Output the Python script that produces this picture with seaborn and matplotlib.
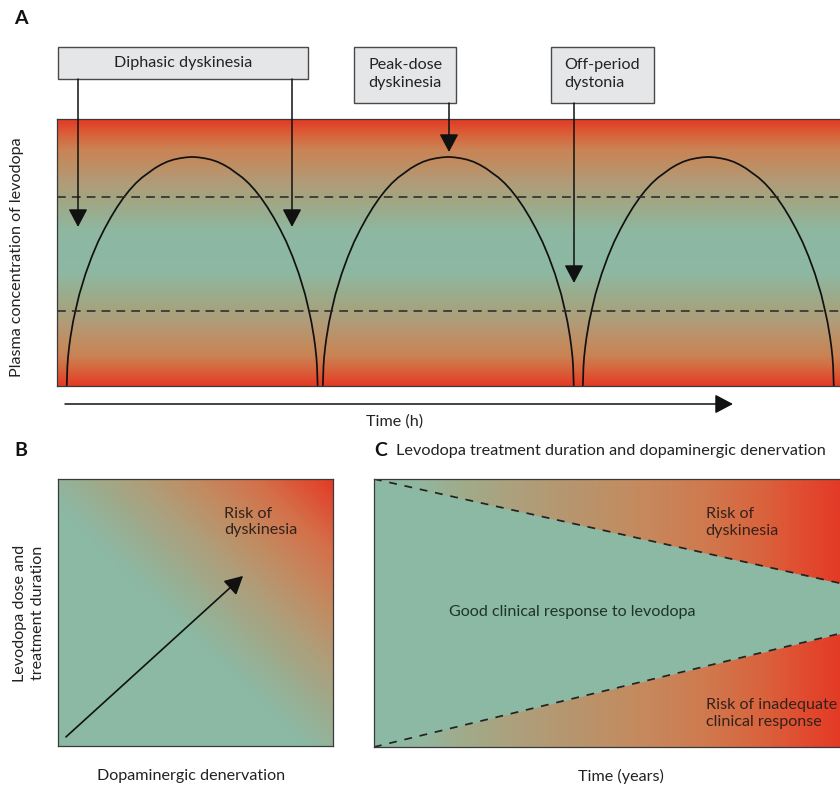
import numpy as np
import matplotlib
matplotlib.use("Agg")
import matplotlib.pyplot as plt
import seaborn as sns
import pandas as pd
from matplotlib.colors import LinearSegmentedColormap
from matplotlib.patches import Rectangle

# ---------------- data ----------------
# Panel A: plasma levodopa concentration after three doses
dose_peak_times_h = [2.08, 6.02, 10.02]
arch_half_width_h = 1.93
peak_concentration = 0.858
dyskinesia_threshold = 0.708
off_threshold = 0.281
# one half of the arch (offset from peak as fraction of half width -> fraction of peak)
arch_half_offset = [0.0, 0.05, 0.1, 0.15, 0.2, 0.25, 0.3, 0.35, 0.4, 0.45, 0.5,
                    0.55, 0.6, 0.65, 0.7, 0.75, 0.8, 0.85, 0.9, 0.93, 0.95, 0.97,
                    0.98, 0.99, 0.995, 1.0]
arch_half_level = [1.0, 0.998, 0.994, 0.988, 0.979, 0.966, 0.95, 0.93, 0.91, 0.885,
                   0.855, 0.82, 0.78, 0.735, 0.685, 0.63, 0.565, 0.49, 0.40, 0.33,
                   0.28, 0.215, 0.175, 0.125, 0.085, 0.0]

# Panel B: arrow of increasing dose / denervation
b_arrow_start = (0.029, 0.034)
b_arrow_end = (0.673, 0.637)

# Panel C: boundaries of the "good response" window over time
c_time = [0.0, 1.01]
c_upper = [1.0, 0.607]
c_lower = [0.0, 0.428]

# colours
GREEN = "#8cb9a4"
RED = "#e43a26"
TXT = "#222222"
DARK_TXT = "#33221a"

# ---------------- figure ----------------
sns.set_theme(style="white")
plt.rcParams["font.family"] = ["Lato", "DejaVu Sans"]

W, H = 840, 786
fig = plt.figure(figsize=(W / 100, H / 100), dpi=100)
FS = 11.6


def px_axes(x0, y0, x1, y1, **kw):
    return fig.add_axes([x0 / W, 1 - y1 / H, (x1 - x0) / W, (y1 - y0) / H], **kw)


def style_spines(ax, color="#3a3a3a", lw=0.9):
    for s in ax.spines.values():
        s.set_visible(True)
        s.set_color(color)
        s.set_linewidth(lw)
    ax.set_xticks([])
    ax.set_yticks([])
    ax.set_xlabel("")
    ax.set_ylabel("")


# ---- Panel A ----
cmapA = LinearSegmentedColormap.from_list(
    "a", [(0.0, "#8cb9a4"), (0.17, "#8fb7a1"), (0.28, "#97af91"), (0.42, "#a5a480"),
          (0.54, "#b39a77"), (0.66, "#bf8e63"), (0.77, "#c98455"), (0.88, "#d8643b"),
          (1.0, RED)])
axA = px_axes(57, 119, 845, 386)
xmaxA = (845 - 57) / 65
yy = np.linspace(0, 1, 400)
dist = np.abs(yy - 0.5) / 0.5
axA.imshow(dist[:, None], cmap=cmapA, vmin=0, vmax=1, aspect="auto",
           origin="lower", extent=[0, xmaxA, 0, 1], interpolation="bilinear")
arch_offset = [-o for o in arch_half_offset[::-1]] + arch_half_offset[1:]
arch_level = arch_half_level[::-1] + arch_half_level[1:]
rows = []
for i, tc in enumerate(dose_peak_times_h):
    for o, l in zip(arch_offset, arch_level):
        rows.append({"dose": i, "t": tc + o * arch_half_width_h, "c": l * peak_concentration})
dfA = pd.DataFrame(rows)
sns.lineplot(data=dfA, x="t", y="c", units="dose", estimator=None, sort=False,
             color="#111111", lw=1.25, ax=axA)
for thr in [dyskinesia_threshold, off_threshold]:
    axA.axhline(thr, color="#2a2a2a", lw=1.15, ls=(0, (5.5, 3.8)))
axA.set_xlim(0, xmaxA)
axA.set_ylim(0, 1)
style_spines(axA)

# ---- Panel B ----
cmapB = LinearSegmentedColormap.from_list(
    "b", [(0.0, GREEN), (0.45, GREEN), (0.55, "#9cac8e"), (0.65, "#b09d79"),
          (0.75, "#c38a60"), (0.86, "#d4704a"), (1.0, RED)])
axB = px_axes(58, 479, 333, 746)
uu, vv = np.meshgrid(np.linspace(0, 1, 300), np.linspace(0, 1, 300))
axB.imshow((uu + vv) / 2, cmap=cmapB, vmin=0, vmax=1, aspect="auto",
           origin="lower", extent=[0, 1, 0, 1], interpolation="bilinear")
axB.annotate("", xy=b_arrow_end, xytext=b_arrow_start,
             arrowprops=dict(arrowstyle="-|>,head_length=0.85,head_width=0.45",
                             color="#111111", lw=1.2, mutation_scale=13,
                             shrinkA=0, shrinkB=0))
axB.text(0.604, 0.839, "Risk of\ndyskinesia", ha="left", va="center",
         fontsize=FS, color=DARK_TXT, linespacing=1.25)
axB.set_xlim(0, 1)
axB.set_ylim(0, 1)
style_spines(axB)

# ---- Panel C ----
cmapC = LinearSegmentedColormap.from_list(
    "c", [(0.0, GREEN), (0.1, "#92b69e"), (0.2, "#a2aa88"), (0.31, "#ae9f7b"),
          (0.44, "#b8946c"), (0.57, "#c58a5e"), (0.7, "#cf7b50"), (0.83, "#d9643e"),
          (0.91, "#e04f31"), (1.0, RED)])
axC = px_axes(374, 479, 845, 747)
xs = np.linspace(0, 1, 400)
axC.imshow(xs[None, :], cmap=cmapC, vmin=0, vmax=1, aspect="auto",
           origin="lower", extent=[0, 1.0, 0, 1], interpolation="bilinear")
axC.add_patch(Rectangle((1.0, 0), 0.02, 1, color=RED, lw=0))
axC.fill_between(c_time, c_lower, c_upper, color=GREEN, lw=0)
dfC = pd.DataFrame({"t": c_time * 2, "y": c_upper + c_lower,
                    "edge": ["upper"] * 2 + ["lower"] * 2})
sns.lineplot(data=dfC, x="t", y="y", units="edge", estimator=None, sort=False,
             color="#222222", lw=1.25, ls=(0, (4.5, 4.5)), ax=axC)
axC.text(0.711, 0.838, "Risk of\ndyskinesia", ha="left", va="center",
         fontsize=FS, color=DARK_TXT, linespacing=1.25)
axC.text(0.425, 0.504, "Good clinical response to levodopa", ha="center",
         va="center", fontsize=FS, color="#1f3329")
axC.text(0.711, 0.125, "Risk of inadequate\nclinical response", ha="left",
         va="center", fontsize=FS, color=DARK_TXT, linespacing=1.25)
axC.set_xlim(0, 1.01)
axC.set_ylim(0, 1)
style_spines(axC)

# ---- overlay for labels, boxes and arrows (pixel coordinates) ----
ov = fig.add_axes([0, 0, 1, 1], zorder=10)
ov.set_xlim(0, W)
ov.set_ylim(H, 0)
ov.axis("off")
ov.patch.set_alpha(0)

ARW = dict(arrowstyle="-|>,head_length=0.85,head_width=0.45", color="#111111",
           lw=1.1, mutation_scale=13, shrinkA=0, shrinkB=0)


def arrow(x0, y0, x1, y1):
    ov.annotate("", xy=(x1, y1), xytext=(x0, y0), arrowprops=ARW)


# panel letters
for lab, (x, y) in {"A": (14, 19), "B": (14, 450), "C": (374, 451)}.items():
    ov.text(x, y, lab, fontsize=14, fontweight="bold", color="#111111",
            ha="left", va="center")

# boxes in panel A
box_kw = dict(fc="#e4e6e8", ec="#4a4a4a", lw=1.0)
ov.add_patch(Rectangle((58, 47), 250, 32, **box_kw))
ov.text(183, 63, "Diphasic dyskinesia", ha="center", va="center", fontsize=FS, color=TXT)
ov.add_patch(Rectangle((354, 47), 102, 56, **box_kw))
ov.text(368, 74, "Peak-dose\ndyskinesia", ha="left", va="center", fontsize=FS,
        color=TXT, linespacing=1.3)
ov.add_patch(Rectangle((551, 47), 103, 56, **box_kw))
ov.text(564, 74, "Off-period\ndystonia", ha="left", va="center", fontsize=FS,
        color=TXT, linespacing=1.3)

arrow(78, 79, 78, 227)
arrow(292, 79, 292, 227)
arrow(449, 103, 449, 152)
arrow(574, 103, 574, 283)

# axis texts
ov.text(17, 257, "Plasma concentration of levodopa", rotation=90, ha="center",
        va="center", fontsize=FS, color=TXT)
arrow(65, 404, 733, 404)
ov.text(395, 422, "Time (h)", ha="center", va="center", fontsize=FS, color=TXT)

ov.text(29, 613, "Levodopa dose and\ntreatment duration", rotation=90, ha="center",
        va="center", fontsize=FS, color=TXT, linespacing=1.3)
ov.text(191, 776, "Dopaminergic denervation", ha="center", va="center",
        fontsize=FS, color=TXT)

ov.text(396, 451, "Levodopa treatment duration and dopaminergic denervation",
        ha="left", va="center", fontsize=11.7, color=TXT)
arrow(392, 464, 848, 464)
arrow(403, 762, 848, 762)
ov.text(621, 776, "Time (years)", ha="center", va="center", fontsize=FS, color=TXT)

fig.savefig("out.png", dpi=100)
